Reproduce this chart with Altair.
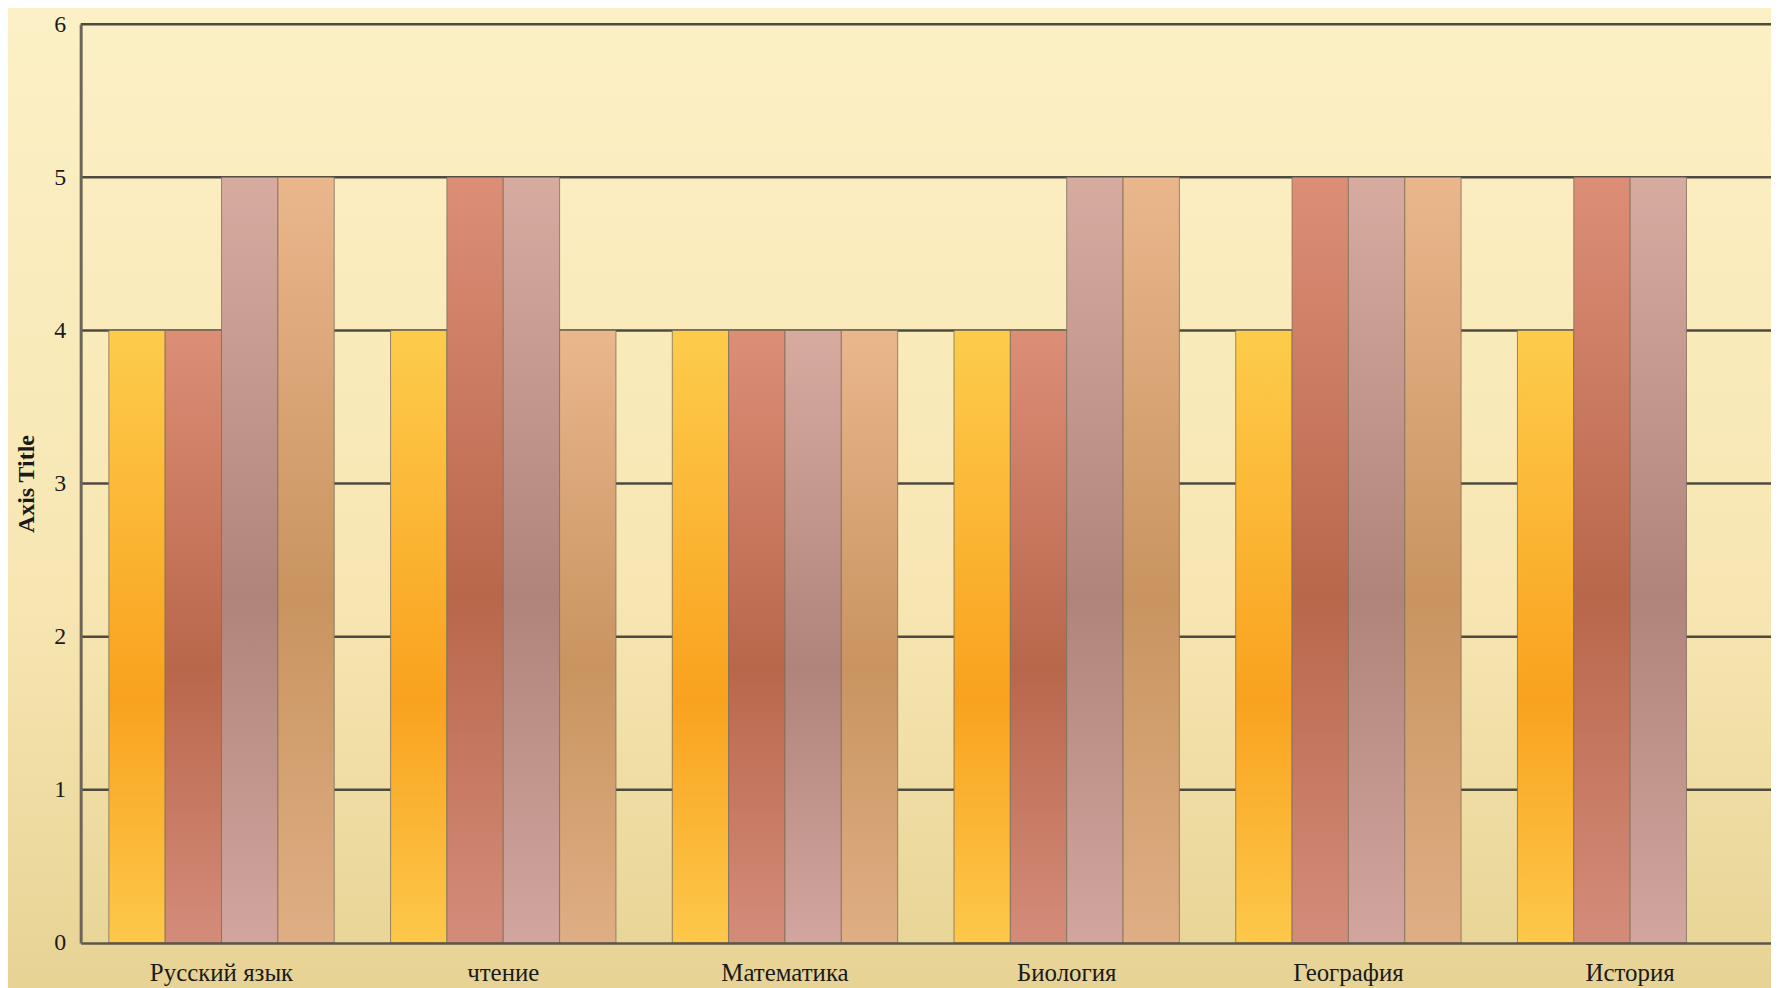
import altair as alt
import pandas as pd

subjects = ["Русский язык", "чтение", "Математика", "Биология", "География", "История"]
series_names = ["Ряд 1", "Ряд 2", "Ряд 3", "Ряд 4"]
s1 = [4, 4, 4, 4, 4, 4]
s2 = [4, 5, 4, 4, 5, 5]
s3 = [5, 5, 4, 5, 5, 5]
s4 = [5, 4, 4, 5, 5, None]
y_ticks = [0, 1, 2, 3, 4, 5, 6]
grid_values = [1, 2, 3, 4, 5, 6]

rows = []
for name, vals in zip(series_names, [s1, s2, s3, s4]):
    for subj, v in zip(subjects, vals):
        if v is not None:
            rows.append({"subject": subj, "series": name, "value": v})
df = pd.DataFrame(rows)
grid_df = pd.DataFrame({"value": grid_values})

W, H = 1698, 923


def grad(top, mid, bottom, midpos=0.55):
    return {
        "gradient": "linear", "x1": 0, "y1": 0, "x2": 0, "y2": 1,
        "stops": [
            {"offset": 0, "color": top},
            {"offset": midpos, "color": mid},
            {"offset": 1, "color": bottom},
        ],
    }


bar_grads = [
    grad("#fdcc4b", "#f9a21f", "#fdc84a", 0.6),
    grad("#dc8e77", "#b9674b", "#d48c7a", 0.55),
    grad("#d8aba1", "#b0847a", "#d2a69e", 0.55),
    grad("#eab68c", "#c99460", "#dfae84", 0.55),
]

x_enc = alt.X(
    "subject:N", sort=subjects,
    scale=alt.Scale(domain=subjects, paddingInner=0.2, paddingOuter=0.1),
    axis=alt.Axis(title=None, labelAngle=0, ticks=False, labelFont="Liberation Serif",
                  labelFontSize=25, labelColor="#1a1a1a", labelPadding=18,
                  domainColor="#5c5648", domainWidth=2.5, grid=False, zindex=1),
)
y_axis = alt.Axis(values=y_ticks, grid=False, title="Axis Title", ticks=False,
                  labelFont="Liberation Serif", labelFontSize=24, labelColor="#1a1a1a",
                  labelPadding=15, domainColor="#6b6657", domainWidth=3,
                  titleFont="Liberation Serif", titleFontSize=24, titleFontWeight="bold",
                  titleColor="#1a1a1a", titlePadding=15, zindex=1)
y_enc = alt.Y("value:Q", scale=alt.Scale(domain=[0, 6], nice=False), axis=y_axis)

bg = alt.Chart(alt.Data(values=[{"a": 1}])).mark_rect(
    color=grad("#fcf0c6", "#f7e6b2", "#e6d293", 0.6), clip=False
).encode(
    x=alt.value(-80), x2=alt.value(W + 80), y=alt.value(-20), y2=alt.value(H + 60)
)

rules = alt.Chart(grid_df).mark_rule(color="#4d4a3f", strokeWidth=2.5).encode(
    y=y_enc, x=alt.value(0), x2=alt.value(W)
)

layers = [bg, rules]
for name, g in zip(series_names, bar_grads):
    layers.append(
        alt.Chart(df).transform_filter(alt.datum.series == name)
        .mark_bar(color=g, stroke="#7d6f5a", strokeWidth=1, strokeOpacity=0.8)
        .encode(
            x=x_enc,
            xOffset=alt.XOffset("series:N", scale=alt.Scale(domain=series_names, paddingInner=0, paddingOuter=0)),
            y=y_enc,
        )
    )

chart = alt.layer(*layers).properties(
    width=W, height=H,
    padding={"left": 73, "top": 14, "right": 0, "bottom": 43},
    autosize=alt.AutoSizeParams(type="none"),
    background="#f3e4b0",
).configure_view(stroke=None)

chart.save("out.html", embed_options={"renderer": "svg", "actions": False})
